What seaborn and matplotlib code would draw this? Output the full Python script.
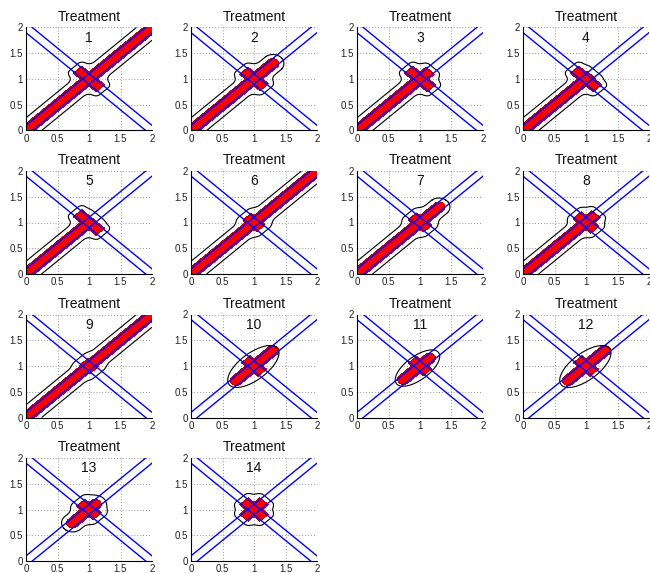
import numpy as np
import pandas as pd
import matplotlib
matplotlib.use("Agg")
import matplotlib.pyplot as plt
import seaborn as sns

# Treatment panels: diagonal red arm (start/end along y = x), anti-diagonal
# cross arm half-length, and optional elliptical confidence outline.
panel_ids = list(range(1, 15))
diag_start = [-0.3, -0.3, -0.3, -0.3, -0.3, -0.3, -0.3, -0.3, -0.3, 0.72, 0.74, 0.72, 0.74, 0.84]
diag_end = [2.3, 1.30, 1.16, 1.08, 1.06, 2.3, 1.30, 1.16, 2.3, 1.30, 1.15, 1.30, 1.10, 1.16]
diag_rounded = [False, True, False, False, False, False, True, False, False, True, True, True, True, False]
cross_half = [0.18, 0.16, 0.18, 0.18, 0.18, 0.11, 0.12, 0.14, 0.08, 0.13, 0.12, 0.13, 0.13, 0.16]
ellipse_center = [None] * 9 + [0.99, 0.96, 0.99, None, None]
ellipse_along = [None] * 9 + [0.37, 0.32, 0.37, None, None]
ellipse_across = [None] * 9 + [0.24, 0.21, 0.24, None, None]

band_offsets = [-0.1, 0.1]          # blue lines y = x +/- 0.1
anti_offsets = [1.9, 2.1]           # blue lines y = c - x
tick_vals = [0, 0.5, 1, 1.5, 2]
tick_text = ["0", "0.5", "1", "1.5", "2"]

ARM_HALF_WIDTH = 0.095
OUTLINE_GAP = 0.08
BLEND = 0.14
SQ2 = np.sqrt(2.0)

sns.set_theme(style="white")
plt.rcParams["font.family"] = ["Liberation Sans", "DejaVu Sans"]

fig = plt.figure(figsize=(6.5, 5.73), dpi=100)
W, H = 650.0, 573.0
col_left = [26, 191, 357, 523]
row_top = [27.5, 171, 314.5, 458]
ax_w, ax_h = 126, 103

gx = np.linspace(0, 2, 401)
X, Y = np.meshgrid(gx, gx)
U = (X + Y) / SQ2      # along the diagonal
V = (Y - X) / SQ2      # across the diagonal


def arm_sdf(u, v, u0, u1, half_w, rounded):
    du = np.maximum(u0 - u, u - u1)
    dv = np.abs(v) - half_w
    if rounded:
        return np.sqrt(np.maximum(du, 0) ** 2 + v ** 2) - half_w
    outside = np.sqrt(np.maximum(du, 0) ** 2 + np.maximum(dv, 0) ** 2)
    inside = np.minimum(np.maximum(du, dv), 0)
    return outside + inside


def smooth_min(a, b, k):
    h = np.clip(0.5 + 0.5 * (b - a) / k, 0, 1)
    return b * (1 - h) + a * h - k * h * (1 - h)


for i, pid in enumerate(panel_ids):
    r, c = divmod(i, 4)
    left = col_left[c] / W
    bottom = 1 - (row_top[r] + ax_h) / H
    ax = fig.add_axes([left, bottom, ax_w / W, ax_h / H])

    # red arms
    d_diag = arm_sdf(U, V, diag_start[i] * SQ2, diag_end[i] * SQ2, ARM_HALF_WIDTH, diag_rounded[i])
    a = cross_half[i] * SQ2
    d_cross = arm_sdf(-V, U - SQ2, -a, a, ARM_HALF_WIDTH, False)
    d_red = np.minimum(d_diag, d_cross)
    ax.contourf(X, Y, d_red, levels=[-10, 0], colors=["#ff0000"], zorder=2)
    ax.contour(X, Y, d_red, levels=[0], colors=["#500000"], linewidths=0.3, zorder=2.1)

    # black outline
    if ellipse_center[i] is not None:
        uc = ellipse_center[i] * SQ2
        A = ellipse_along[i] * SQ2
        B = ellipse_across[i]
        field = ((U - uc) / A) ** 2 + (V / B) ** 2 - 1
        ax.contour(X, Y, field, levels=[0], colors="black", linewidths=0.8, zorder=3)
    else:
        field = smooth_min(d_diag, d_cross, BLEND)
        ax.contour(X, Y, field, levels=[OUTLINE_GAP], colors="black", linewidths=0.8, zorder=3)

    # blue reference lines
    xs = np.array([-0.5, 2.5])
    for off in band_offsets:
        sns.lineplot(x=xs, y=xs + off, color="#0000ff", linewidth=1.0, ax=ax,
                     sort=False, zorder=4)
    for cst in anti_offsets:
        sns.lineplot(x=xs, y=cst - xs, color="#0000ff", linewidth=1.0, ax=ax,
                     sort=False, zorder=4)

    ax.set_xlim(0, 2)
    ax.set_ylim(0, 2)
    ax.set_xticks(tick_vals)
    ax.set_yticks(tick_vals)
    ax.set_xticklabels(tick_text)
    ax.set_yticklabels(tick_text)
    ax.tick_params(axis="both", direction="in", length=2, width=0.6,
                   labelsize=7, colors="#222222", pad=2.5)
    ax.grid(True, linestyle=(0, (1, 2.5)), color="#777777", linewidth=0.6)
    ax.set_axisbelow(True)
    for side in ["top", "right"]:
        ax.spines[side].set_visible(False)
    for side in ["left", "bottom"]:
        ax.spines[side].set_color("black")
        ax.spines[side].set_linewidth(0.8)
        ax.spines[side].set_zorder(5)
    ax.set_xlabel("")
    ax.set_ylabel("")
    ax.set_title("Treatment", fontsize=10, pad=5, color="#111111")
    ax.text(0.5, 0.9, str(pid), transform=ax.transAxes, ha="center", va="center",
            fontsize=10, color="#111111", zorder=6)

fig.savefig("out.png", dpi=100)
